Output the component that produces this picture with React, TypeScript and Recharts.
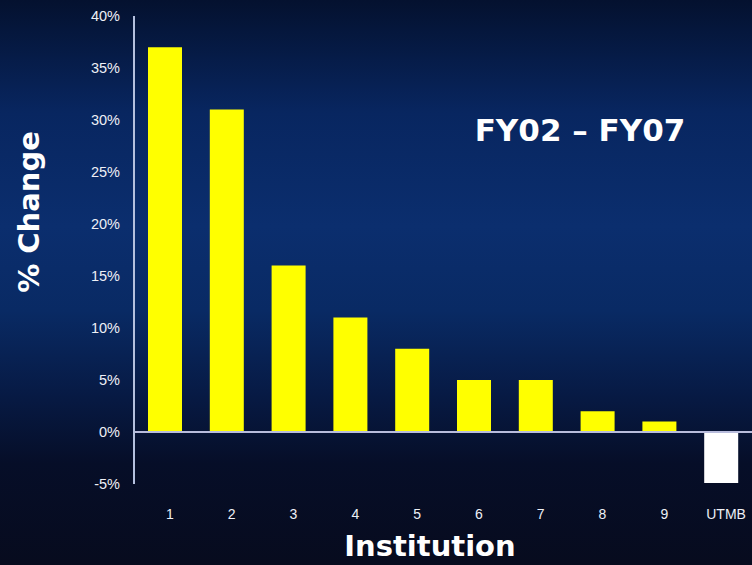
// % change by institution, FY02 - FY07, drawn with Recharts on a slide-like blue backdrop
import * as React from 'react';
import { BarChart, Bar, XAxis, YAxis, Cell, ReferenceLine, Label } from 'recharts';

const institutions = ['1', '2', '3', '4', '5', '6', '7', '8', '9', 'UTMB'];
const pctChange = [37, 31, 16, 11, 8, 5, 5, 2, 1, -4.9];
const yTicks = [-5, 0, 5, 10, 15, 20, 25, 30, 35, 40];

const BAR_YELLOW = '#ffff00';
const BAR_WHITE = '#ffffff';
const TEXT = '#eef0f6';

const data = institutions.map((name, i) => ({ name, value: pctChange[i] }));

export default function App(): JSX.Element {
  return (
    <div
      style={{
        position: 'absolute',
        left: 0,
        top: 0,
        width: 752,
        height: 565,
        overflow: 'hidden',
        background:
          'linear-gradient(to bottom, #04112f 0%, #082660 20%, #0b2e6e 40%, #092a64 55%, #071a44 70%, #060e28 82%, #070b1e 100%)',
      }}
    >
      <BarChart
        width={752}
        height={565}
        data={data}
        margin={{ top: 16, right: 0, bottom: 0, left: 0 }}
        barSize={34}
      >
        <XAxis
          dataKey="name"
          axisLine={false}
          tickLine={false}
          tickMargin={19}
          height={81}
          tick={{ fill: TEXT, fontSize: 14, fontFamily: 'Liberation Sans, Arial, sans-serif', dx: 5 }}
        >
          <Label
            content={() => (
              <text
                x={430}
                y={556}
                textAnchor="middle"
                fill="#ffffff"
                fontSize={29}
                fontWeight="bold"
                fontFamily="DejaVu Sans, sans-serif"
              >
                Institution
              </text>
            )}
          />
        </XAxis>
        <YAxis
          type="number"
          domain={[-5, 40]}
          ticks={yTicks}
          interval={0}
          width={134}
          tickFormatter={(v: number) => `${v}%`}
          axisLine={{ stroke: '#b4c0de', strokeWidth: 2 }}
          tickLine={false}
          tickMargin={8}
          tick={{ fill: TEXT, fontSize: 14.5, fontFamily: 'Liberation Sans, Arial, sans-serif' }}
        >
          <Label
            content={() => (
              <text
                x={39}
                y={212}
                transform="rotate(-90 39 212)"
                textAnchor="middle"
                fill="#ffffff"
                fontSize={29}
                fontWeight="bold"
                fontFamily="DejaVu Sans, sans-serif"
              >
                % Change
              </text>
            )}
          />
        </YAxis>
        <ReferenceLine y={0} stroke="#b8bcdc" strokeWidth={2} />
        <Bar dataKey="value" isAnimationActive={false}>
          {data.map((d, index) => (
            <Cell key={`cell-${index}`} fill={d.value < 0 ? BAR_WHITE : BAR_YELLOW} />
          ))}
        </Bar>
      </BarChart>
      <div
        style={{
          position: 'absolute',
          left: 470,
          top: 112,
          width: 220,
          textAlign: 'center',
          color: '#ffffff',
          fontFamily: 'DejaVu Sans, sans-serif',
          fontWeight: 'bold',
          fontSize: 31,
          whiteSpace: 'nowrap',
        }}
      >
        FY02 – FY07
      </div>
    </div>
  );
}
